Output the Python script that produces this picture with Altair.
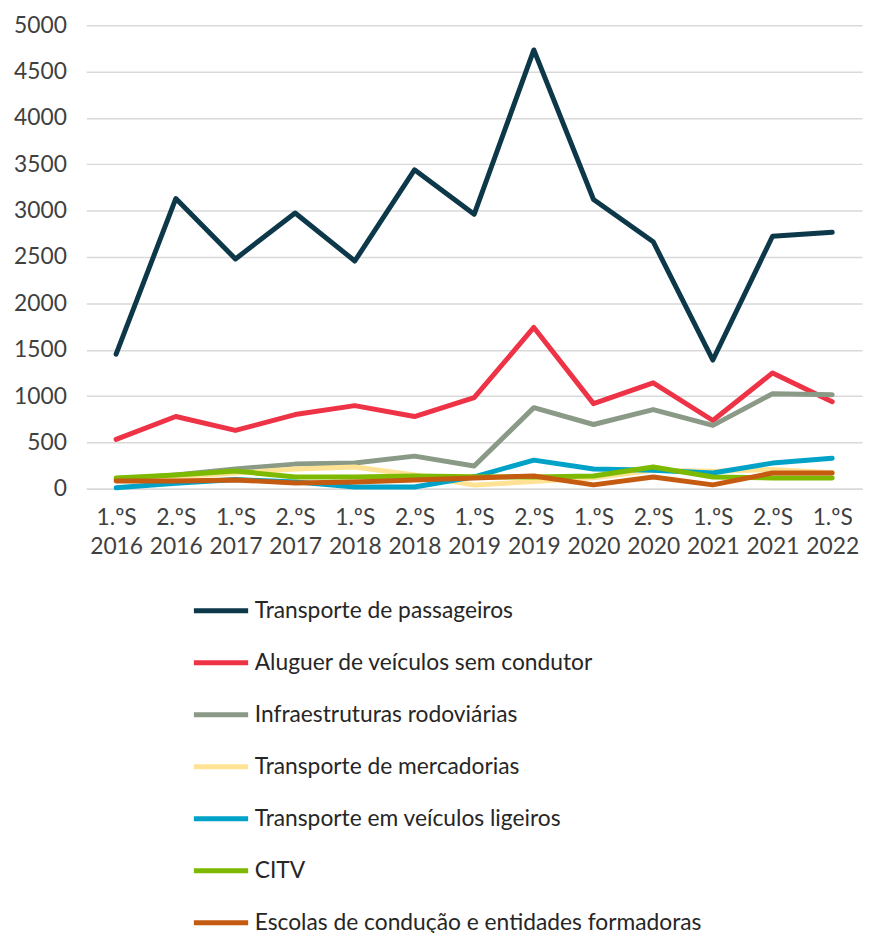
import altair as alt
import pandas as pd

periods = ["1.ºS 2016", "2.ºS 2016", "1.ºS 2017", "2.ºS 2017", "1.ºS 2018", "2.ºS 2018",
           "1.ºS 2019", "2.ºS 2019", "1.ºS 2020", "2.ºS 2020", "1.ºS 2021", "2.ºS 2021", "1.ºS 2022"]

series_names = [
    "Transporte de passageiros",
    "Aluguer de veículos sem condutor",
    "Infraestruturas rodoviárias",
    "Transporte de mercadorias",
    "Transporte em veículos ligeiros",
    "CITV",
    "Escolas de condução e entidades formadoras",
]
series_colors = ["#0D3849", "#EE3346", "#8A9A87", "#FFE294", "#00A2C7", "#7CB900", "#C55A11"]

passageiros = [1453, 3130, 2479, 2975, 2457, 3440, 2960, 4733, 3120, 2665, 1389, 2724, 2767]
aluguer = [534, 780, 630, 801, 897, 780, 983, 1741, 919, 1143, 737, 1250, 940]
infraestruturas = [100, 150, 214, 267, 278, 353, 246, 876, 694, 855, 684, 1026, 1015]
mercadorias = [100, 130, 171, 214, 235, 150, 40, 80, 120, 200, 190, 210, 175]
ligeiros = [11, 60, 100, 75, 20, 20, 130, 310, 214, 200, 171, 278, 331]
citv = [118, 150, 192, 128, 128, 139, 130, 128, 139, 235, 128, 118, 118]
escolas = [85, 85, 96, 64, 75, 96, 118, 139, 43, 128, 43, 171, 171]

all_values = [passageiros, aluguer, infraestruturas, mercadorias, ligeiros, citv, escolas]

rows = []
for si, (name, vals) in enumerate(zip(series_names, all_values)):
    for pi, (p, v) in enumerate(zip(periods, vals)):
        rows.append({"period": p, "serie": name, "value": v, "s_order": si, "p_order": pi})
df = pd.DataFrame(rows)

font = "Lato"
fs = 23

chart = alt.Chart(df).mark_line(strokeWidth=5, strokeJoin="round", strokeCap="round").encode(
    x=alt.X("period:N", sort=periods, title=None,
            scale=alt.Scale(type="point", padding=0.5),
            axis=alt.Axis(labelAngle=0, labelExpr="split(datum.label, ' ')",
                          labelFontSize=fs, labelFont=font, labelColor="#404040",
                          labelLineHeight=29, labelPadding=18, ticks=False,
                          domain=True, domainColor="#D9D9D9", domainWidth=1.5, grid=False)),
    y=alt.Y("value:Q", title=None,
            scale=alt.Scale(domain=[0, 5000], nice=False),
            axis=alt.Axis(values=list(range(0, 5001, 500)), format="d", labelFontSize=fs,
                          labelFont=font, labelColor="#404040", labelPadding=20, ticks=False,
                          domain=False, grid=True, gridColor="#D9D9D9", gridWidth=1.5)),
    color=alt.Color("serie:N", sort=series_names,
                    scale=alt.Scale(domain=series_names, range=series_colors),
                    legend=alt.Legend(title=None, orient="none", legendX=106, legendY=561,
                                      direction="vertical", symbolType="stroke",
                                      symbolSize=3000, symbolStrokeWidth=5,
                                      labelFontSize=fs, labelFont=font, labelColor="#262626",
                                      rowPadding=10.5, labelOffset=4, labelLimit=700)),
    order=alt.Order("p_order:Q"),
    detail="serie:N",
).properties(
    width=783, height=468,
    autosize=alt.AutoSizeParams(type="none"),
    padding={"left": 79, "top": 13, "right": 5, "bottom": 450},
).configure_view(stroke=None)

chart.save("out.html", embed_options={"renderer": "svg", "actions": False})
